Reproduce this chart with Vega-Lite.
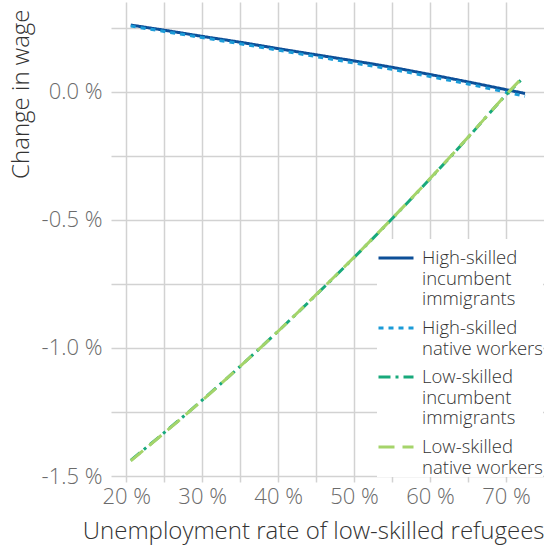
{
  "$schema": "https://vega.github.io/schema/vega-lite/v6.json",
  "width": 433,
  "height": 474,
  "autosize": {"type": "none"},
  "padding": {"left": 111, "top": 2, "right": 0, "bottom": 73},
  "background": "white",
  "config": {"view": {"stroke": null}, "font": "Open Sans"},
  "data": {
    "values": [
      {"series": "High-skilled incumbent immigrants", "rate": 20.6, "change": 0.260},
      {"series": "High-skilled incumbent immigrants", "rate": 25, "change": 0.240},
      {"series": "High-skilled incumbent immigrants", "rate": 30, "change": 0.216},
      {"series": "High-skilled incumbent immigrants", "rate": 35, "change": 0.193},
      {"series": "High-skilled incumbent immigrants", "rate": 40, "change": 0.168},
      {"series": "High-skilled incumbent immigrants", "rate": 45, "change": 0.144},
      {"series": "High-skilled incumbent immigrants", "rate": 50, "change": 0.120},
      {"series": "High-skilled incumbent immigrants", "rate": 55, "change": 0.095},
      {"series": "High-skilled incumbent immigrants", "rate": 60, "change": 0.067},
      {"series": "High-skilled incumbent immigrants", "rate": 65, "change": 0.038},
      {"series": "High-skilled incumbent immigrants", "rate": 70, "change": 0.008},
      {"series": "High-skilled incumbent immigrants", "rate": 72.5, "change": -0.007},
      {"series": "High-skilled native workers", "rate": 20.6, "change": 0.256},
      {"series": "High-skilled native workers", "rate": 25, "change": 0.235},
      {"series": "High-skilled native workers", "rate": 30, "change": 0.211},
      {"series": "High-skilled native workers", "rate": 35, "change": 0.187},
      {"series": "High-skilled native workers", "rate": 40, "change": 0.162},
      {"series": "High-skilled native workers", "rate": 45, "change": 0.137},
      {"series": "High-skilled native workers", "rate": 50, "change": 0.112},
      {"series": "High-skilled native workers", "rate": 55, "change": 0.087},
      {"series": "High-skilled native workers", "rate": 60, "change": 0.059},
      {"series": "High-skilled native workers", "rate": 65, "change": 0.030},
      {"series": "High-skilled native workers", "rate": 70, "change": -0.002},
      {"series": "High-skilled native workers", "rate": 72.5, "change": -0.018},
      {"series": "Low-skilled incumbent immigrants", "rate": 20.6, "change": -1.439},
      {"series": "Low-skilled incumbent immigrants", "rate": 25, "change": -1.331},
      {"series": "Low-skilled incumbent immigrants", "rate": 30, "change": -1.204},
      {"series": "Low-skilled incumbent immigrants", "rate": 35, "change": -1.072},
      {"series": "Low-skilled incumbent immigrants", "rate": 40, "change": -0.935},
      {"series": "Low-skilled incumbent immigrants", "rate": 45, "change": -0.793},
      {"series": "Low-skilled incumbent immigrants", "rate": 50, "change": -0.647},
      {"series": "Low-skilled incumbent immigrants", "rate": 55, "change": -0.496},
      {"series": "Low-skilled incumbent immigrants", "rate": 60, "change": -0.340},
      {"series": "Low-skilled incumbent immigrants", "rate": 65, "change": -0.179},
      {"series": "Low-skilled incumbent immigrants", "rate": 70, "change": -0.013},
      {"series": "Low-skilled incumbent immigrants", "rate": 72.3, "change": 0.055},
      {"series": "Low-skilled native workers", "rate": 20.6, "change": -1.441},
      {"series": "Low-skilled native workers", "rate": 25, "change": -1.332},
      {"series": "Low-skilled native workers", "rate": 30, "change": -1.205},
      {"series": "Low-skilled native workers", "rate": 35, "change": -1.072},
      {"series": "Low-skilled native workers", "rate": 40, "change": -0.935},
      {"series": "Low-skilled native workers", "rate": 45, "change": -0.792},
      {"series": "Low-skilled native workers", "rate": 50, "change": -0.646},
      {"series": "Low-skilled native workers", "rate": 55, "change": -0.495},
      {"series": "Low-skilled native workers", "rate": 60, "change": -0.339},
      {"series": "Low-skilled native workers", "rate": 65, "change": -0.178},
      {"series": "Low-skilled native workers", "rate": 70, "change": -0.012},
      {"series": "Low-skilled native workers", "rate": 72.4, "change": 0.062}
    ]
  },
  "mark": {"type": "line", "strokeWidth": 3, "strokeCap": "butt", "interpolate": "monotone"},
  "encoding": {
    "x": {
      "field": "rate",
      "type": "quantitative",
      "scale": {"domain": [18, 75], "nice": false, "zero": false},
      "axis": {
        "title": "Unemployment rate of low-skilled refugees",
        "values": [20, 25, 30, 35, 40, 45, 50, 55, 60, 65, 70],
        "labelExpr": "datum.value % 10 == 0 ? datum.value + ' %' : ''",
        "grid": true,
        "gridColor": "#d2d2d2",
        "gridWidth": 1.5,
        "domain": false,
        "ticks": true,
        "tickColor": "#d2d2d2",
        "tickWidth": 1.5,
        "tickSize": 6,
        "labelPadding": 4,
        "labelFont": "Open Sans",
        "labelFontSize": 22,
        "labelFontWeight": 300,
        "labelColor": "#6b6b6b",
        "labelOverlap": false,
        "labelFlush": false,
        "titleFont": "Open Sans",
        "titleFontSize": 24,
        "titleFontWeight": 300,
        "titleColor": "#333333",
        "titleAlign": "right",
        "titleAnchor": "end",
        "titleBaseline": "alphabetic",
        "titleX": 433,
        "titleY": 62
      }
    },
    "y": {
      "field": "change",
      "type": "quantitative",
      "scale": {"domain": [-1.5, 0.35], "nice": false, "zero": false},
      "axis": {
        "title": "Change in wage",
        "values": [-1.5, -1.25, -1, -0.75, -0.5, -0.25, 0, 0.25],
        "labelExpr": "abs(datum.value % 0.5) < 0.001 ? replace(format(datum.value, '.1f'), '\u2212', '-') + ' %' : ''",
        "grid": true,
        "gridColor": "#d2d2d2",
        "gridWidth": 1.5,
        "domain": false,
        "ticks": false,
        "labelPadding": 9,
        "labelFont": "Open Sans",
        "labelFontSize": 22,
        "labelFontWeight": 300,
        "labelColor": "#6b6b6b",
        "labelOverlap": false,
        "labelFlush": false,
        "titleFont": "Open Sans",
        "titleFontSize": 24,
        "titleFontWeight": 300,
        "titleColor": "#333333",
        "titleAngle": -90,
        "titleAlign": "right",
        "titleBaseline": "alphabetic",
        "titleX": -83,
        "titleY": 7
      }
    },
    "color": {
      "field": "series",
      "type": "nominal",
      "scale": {
        "domain": ["High-skilled incumbent immigrants", "High-skilled native workers", "Low-skilled incumbent immigrants", "Low-skilled native workers"],
        "range": ["#0d4f98", "#1b9bd7", "#18a97b", "#a5d46a"]
      },
      "legend": {
        "title": null,
        "orient": "none",
        "legendX": 266,
        "legendY": 237,
        "padding": 0,
        "fillColor": "white",
        "symbolType": "stroke",
        "symbolSize": 1225,
        "symbolStrokeWidth": 3,
        "labelFont": "Open Sans",
        "labelFontSize": 18.5,
        "labelFontWeight": 300,
        "labelColor": "#333333",
        "labelOffset": 7,
        "labelLimit": 250,
        "rowPadding": -15,
        "encoding": {"labels": {"update": {"lineHeight": {"value": 20.5}}}},
        "labelExpr": "datum.label == 'High-skilled incumbent immigrants' ? ['High-skilled', 'incumbent', 'immigrants'] : datum.label == 'High-skilled native workers' ? ['High-skilled', 'native workers'] : datum.label == 'Low-skilled incumbent immigrants' ? ['Low-skilled', 'incumbent', 'immigrants'] : ['Low-skilled', 'native workers']"
      }
    },
    "strokeDash": {
      "field": "series",
      "type": "nominal",
      "scale": {
        "domain": ["High-skilled incumbent immigrants", "High-skilled native workers", "Low-skilled incumbent immigrants", "Low-skilled native workers"],
        "range": [[1, 0], [5, 5], [12, 5, 3, 5], [16, 8]]
      },
      "legend": {
        "title": null,
        "orient": "none",
        "legendX": 266,
        "legendY": 237,
        "padding": 0,
        "fillColor": "white",
        "symbolType": "stroke",
        "symbolSize": 1225,
        "symbolStrokeWidth": 3,
        "labelFont": "Open Sans",
        "labelFontSize": 18.5,
        "labelFontWeight": 300,
        "labelColor": "#333333",
        "labelOffset": 7,
        "labelLimit": 250,
        "rowPadding": -15,
        "encoding": {"labels": {"update": {"lineHeight": {"value": 20.5}}}},
        "labelExpr": "datum.label == 'High-skilled incumbent immigrants' ? ['High-skilled', 'incumbent', 'immigrants'] : datum.label == 'High-skilled native workers' ? ['High-skilled', 'native workers'] : datum.label == 'Low-skilled incumbent immigrants' ? ['Low-skilled', 'incumbent', 'immigrants'] : ['Low-skilled', 'native workers']"
      }
    }
  }
}
